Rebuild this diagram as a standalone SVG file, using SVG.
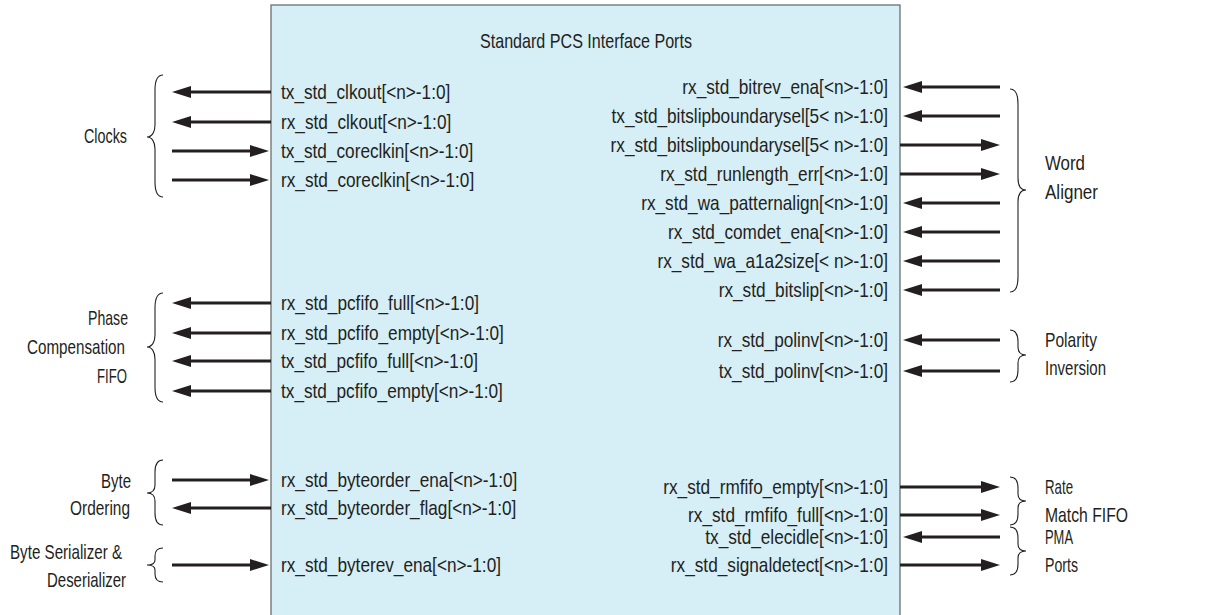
<svg xmlns="http://www.w3.org/2000/svg" width="1206" height="615" viewBox="0 0 1206 615">
<style>
.port{font-family:"Liberation Sans",Arial,sans-serif;font-size:21px;fill:#231f20}
.r{text-anchor:end}
.grp{font-family:"Liberation Sans",Arial,sans-serif;font-size:21px;fill:#231f20}
.title{font-family:"Liberation Sans",Arial,sans-serif;font-size:21px;fill:#231f20;text-anchor:middle}
.w{stroke:#231f20;stroke-width:3;fill:none;marker-end:url(#ah)}
.br{stroke:#231f20;stroke-width:1.1;fill:none}
</style>
<defs>
<marker id="ah" markerUnits="userSpaceOnUse" markerWidth="20" markerHeight="12" refX="0" refY="6" orient="auto">
<path d="M0,0 L19,6 L0,12 z" fill="#231f20"/>
</marker>
</defs>
<rect width="1206" height="615" fill="#ffffff"/>
<g id="pcs-block">
<rect x="271" y="5" width="629" height="620" fill="#d6eef6" stroke="#6d6e71" stroke-width="1.3"/>
<text class="title" x="586" y="48" textLength="212" lengthAdjust="spacingAndGlyphs">Standard PCS Interface Ports</text>
<text class="port" transform="translate(281,99) scale(0.82,1)">tx_std_clkout[&lt;n&gt;-1:0]</text>
<text class="port" transform="translate(281,129) scale(0.82,1)">rx_std_clkout[&lt;n&gt;-1:0]</text>
<text class="port" transform="translate(281,158) scale(0.82,1)">tx_std_coreclkin[&lt;n&gt;-1:0]</text>
<text class="port" transform="translate(281,187) scale(0.82,1)">rx_std_coreclkin[&lt;n&gt;-1:0]</text>
<text class="port" transform="translate(281,310) scale(0.82,1)">rx_std_pcfifo_full[&lt;n&gt;-1:0]</text>
<text class="port" transform="translate(281,340) scale(0.82,1)">rx_std_pcfifo_empty[&lt;n&gt;-1:0]</text>
<text class="port" transform="translate(281,368) scale(0.82,1)">tx_std_pcfifo_full[&lt;n&gt;-1:0]</text>
<text class="port" transform="translate(281,398) scale(0.82,1)">tx_std_pcfifo_empty[&lt;n&gt;-1:0]</text>
<text class="port" transform="translate(281,487) scale(0.82,1)">rx_std_byteorder_ena[&lt;n&gt;-1:0]</text>
<text class="port" transform="translate(281,515) scale(0.82,1)">rx_std_byteorder_flag[&lt;n&gt;-1:0]</text>
<text class="port" transform="translate(281,572) scale(0.82,1)">rx_std_byterev_ena[&lt;n&gt;-1:0]</text>
<text class="port r" transform="translate(888,94) scale(0.82,1)">rx_std_bitrev_ena[&lt;n&gt;-1:0]</text>
<text class="port r" transform="translate(888,123) scale(0.82,1)">tx_std_bitslipboundarysel[5&lt; n&gt;-1:0]</text>
<text class="port r" transform="translate(888,152) scale(0.82,1)">rx_std_bitslipboundarysel[5&lt; n&gt;-1:0]</text>
<text class="port r" transform="translate(888,181) scale(0.82,1)">rx_std_runlength_err[&lt;n&gt;-1:0]</text>
<text class="port r" transform="translate(888,210) scale(0.82,1)">rx_std_wa_patternalign[&lt;n&gt;-1:0]</text>
<text class="port r" transform="translate(888,239) scale(0.82,1)">rx_std_comdet_ena[&lt;n&gt;-1:0]</text>
<text class="port r" transform="translate(888,268) scale(0.82,1)">rx_std_wa_a1a2size[&lt; n&gt;-1:0]</text>
<text class="port r" transform="translate(888,297) scale(0.82,1)">rx_std_bitslip[&lt;n&gt;-1:0]</text>
<text class="port r" transform="translate(888,347) scale(0.82,1)">rx_std_polinv[&lt;n&gt;-1:0]</text>
<text class="port r" transform="translate(888,378) scale(0.82,1)">tx_std_polinv[&lt;n&gt;-1:0]</text>
<text class="port r" transform="translate(888,494) scale(0.82,1)">rx_std_rmfifo_empty[&lt;n&gt;-1:0]</text>
<text class="port r" transform="translate(888,522) scale(0.82,1)">rx_std_rmfifo_full[&lt;n&gt;-1:0]</text>
<text class="port r" transform="translate(888,544) scale(0.82,1)">tx_std_elecidle[&lt;n&gt;-1:0]</text>
<text class="port r" transform="translate(888,572) scale(0.82,1)">rx_std_signaldetect[&lt;n&gt;-1:0]</text>
</g>
<g id="connectors">
<line class="w" x1="271" y1="92" x2="191" y2="92"/>
<line class="w" x1="271" y1="122" x2="191" y2="122"/>
<line class="w" x1="172" y1="151" x2="250" y2="151"/>
<line class="w" x1="172" y1="180" x2="250" y2="180"/>
<line class="w" x1="271" y1="303" x2="191" y2="303"/>
<line class="w" x1="271" y1="333" x2="191" y2="333"/>
<line class="w" x1="271" y1="361" x2="191" y2="361"/>
<line class="w" x1="271" y1="391" x2="191" y2="391"/>
<line class="w" x1="172" y1="480" x2="250" y2="480"/>
<line class="w" x1="271" y1="508" x2="191" y2="508"/>
<line class="w" x1="172" y1="565" x2="250" y2="565"/>
<line class="w" x1="1000" y1="87" x2="922" y2="87"/>
<line class="w" x1="1000" y1="116" x2="922" y2="116"/>
<line class="w" x1="900" y1="145" x2="981" y2="145"/>
<line class="w" x1="900" y1="174" x2="981" y2="174"/>
<line class="w" x1="1000" y1="203" x2="922" y2="203"/>
<line class="w" x1="1000" y1="232" x2="922" y2="232"/>
<line class="w" x1="1000" y1="261" x2="922" y2="261"/>
<line class="w" x1="1000" y1="290" x2="922" y2="290"/>
<line class="w" x1="1000" y1="340" x2="922" y2="340"/>
<line class="w" x1="1000" y1="371" x2="922" y2="371"/>
<line class="w" x1="900" y1="487" x2="981" y2="487"/>
<line class="w" x1="900" y1="515" x2="981" y2="515"/>
<line class="w" x1="1000" y1="537" x2="922" y2="537"/>
<line class="w" x1="900" y1="565" x2="981" y2="565"/>
</g>
<g id="clocks">
<path class="br" d="M163,75 C157,75 155,80 155,90 L155,125 C155,132 152,137 147,137 C152,137 155,142 155,149 L155,182 C155,192 157,197 163,197"/>
<text class="grp" x="127" y="143" text-anchor="end" textLength="43" lengthAdjust="spacingAndGlyphs">Clocks</text>
</g>
<g id="phase-compensation-fifo">
<path class="br" d="M163,293 C157,293 155,298 155,308 L155,335 C155,342 152,347 147,347 C152,347 155,352 155,359 L155,387 C155,397 157,402 163,402"/>
<text class="grp" x="128" y="325" text-anchor="end" textLength="40" lengthAdjust="spacingAndGlyphs">Phase</text>
<text class="grp" x="125" y="354" text-anchor="end" textLength="98" lengthAdjust="spacingAndGlyphs">Compensation</text>
<text class="grp" x="127" y="383" text-anchor="end" textLength="30" lengthAdjust="spacingAndGlyphs">FIFO</text>
</g>
<g id="byte-ordering">
<path class="br" d="M163,460 C157,460 155,464 155,472 L155,485 C155,490 152,493 147,493 C152,493 155,496 155,501 L155,513 C155,521 157,525 163,525"/>
<text class="grp" x="131" y="488" text-anchor="end" textLength="30" lengthAdjust="spacingAndGlyphs">Byte</text>
<text class="grp" x="130" y="515" text-anchor="end" textLength="60" lengthAdjust="spacingAndGlyphs">Ordering</text>
</g>
<g id="byte-serializer">
<path class="br" d="M163,548 C158,548 155,551 155,556 L155,560 C155,563 152,565 147,565 C152,565 155,567 155,570 L155,574 C155,579 158,582 163,582"/>
<text class="grp" x="122" y="559" text-anchor="end" textLength="112" lengthAdjust="spacingAndGlyphs">Byte Serializer &amp;</text>
<text class="grp" x="126" y="587" text-anchor="end" textLength="79" lengthAdjust="spacingAndGlyphs">Deserializer</text>
</g>
<g id="word-aligner">
<path class="br" d="M1010,89 C1016,89 1018,94 1018,104 L1018,178 C1018,186 1021,190 1026,190 C1021,190 1018,194 1018,202 L1018,277 C1018,287 1016,292 1010,292"/>
<text class="grp" x="1045" y="170" textLength="40" lengthAdjust="spacingAndGlyphs">Word</text>
<text class="grp" x="1045" y="199" textLength="53" lengthAdjust="spacingAndGlyphs">Aligner</text>
</g>
<g id="polarity-inversion">
<path class="br" d="M1010,330 C1016,330 1018,334 1018,342 L1018,347 C1018,352 1021,355 1026,355 C1021,355 1018,358 1018,363 L1018,370 C1018,378 1016,382 1010,382"/>
<text class="grp" x="1045" y="347" textLength="52" lengthAdjust="spacingAndGlyphs">Polarity</text>
<text class="grp" x="1045" y="375" textLength="61" lengthAdjust="spacingAndGlyphs">Inversion</text>
</g>
<g id="rate-match-fifo">
<path class="br" d="M1010,477 C1016,477 1018,481 1018,488 L1018,494 C1018,499 1021,501 1026,501 C1021,501 1018,503 1018,508 L1018,514 C1018,521 1016,525 1010,525"/>
<text class="grp" x="1045" y="494" textLength="28" lengthAdjust="spacingAndGlyphs">Rate</text>
<text class="grp" x="1045" y="522" textLength="83" lengthAdjust="spacingAndGlyphs">Match FIFO</text>
</g>
<g id="pma-ports">
<path class="br" d="M1010,527 C1016,527 1018,531 1018,538 L1018,544 C1018,549 1021,551 1026,551 C1021,551 1018,553 1018,558 L1018,564 C1018,571 1016,575 1010,575"/>
<text class="grp" x="1045" y="544" textLength="28" lengthAdjust="spacingAndGlyphs">PMA</text>
<text class="grp" x="1045" y="572" textLength="33" lengthAdjust="spacingAndGlyphs">Ports</text>
</g>
</svg>
